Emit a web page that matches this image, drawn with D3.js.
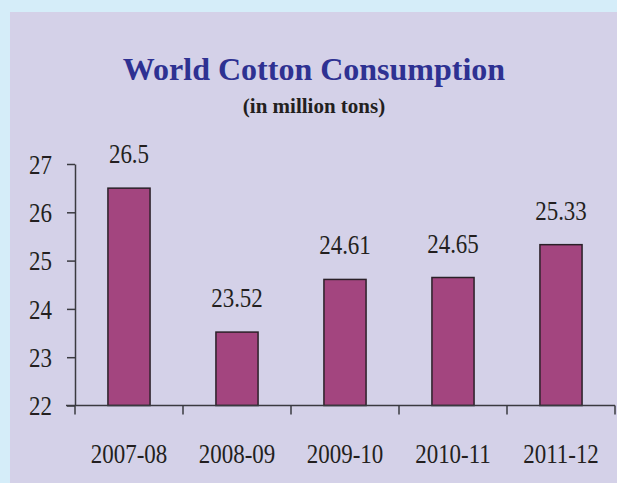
<!DOCTYPE html>
<html>
<head>
<meta charset="utf-8">
<script src="https://cdn.jsdelivr.net/npm/d3@7/dist/d3.min.js"></script>
<style>
  html, body { margin: 0; padding: 0; background: #d5edf9; }
  svg { display: block; }
</style>
</head>
<body>
<script>
// World cotton consumption by season, million tons
const seasons = ["2007-08", "2008-09", "2009-10", "2010-11", "2011-12"];
const consumption = [26.5, 23.52, 24.61, 24.65, 25.33];
const valueLabels = ["26.5", "23.52", "24.61", "24.65", "25.33"];
const yTicks = [22, 23, 24, 25, 26, 27];

const W = 617, H = 483;
const svg = d3.select("body").append("svg").attr("width", W).attr("height", H);

// outer light-blue frame and lavender panel
svg.append("rect").attr("width", W).attr("height", H).attr("fill", "#d5edf9");
svg.append("rect").attr("x", 10).attr("y", 12).attr("width", W - 10).attr("height", H - 12)
  .attr("fill", "#d4d1e8");

const serif = "Liberation Serif, Times New Roman, serif";
const numSize = "28px";     // tall, narrow numerals
const squeeze = 0.82;       // horizontal condensing of numerals
const placed = (px, py) => `translate(${px},${py}) scale(${squeeze},1)`;

svg.append("text").attr("x", 314).attr("y", 80).attr("text-anchor", "middle")
  .style("font-family", serif).style("font-weight", "bold").style("font-size", "32px")
  .attr("fill", "#2e3192").text("World Cotton Consumption");
svg.append("text").attr("x", 314).attr("y", 113).attr("text-anchor", "middle")
  .style("font-family", serif).style("font-weight", "bold").style("font-size", "21px")
  .attr("fill", "#231f20").text("(in million tons)");

const x = d3.scaleBand().domain(seasons).range([75, 615]).paddingInner(0.61).paddingOuter(0.305);
const y = d3.scaleLinear().domain([22, 27]).range([405.5, 164]);

const axisColor = "#3a3a40";

// y axis
const yAxis = svg.append("g").attr("transform", "translate(75,0)")
  .call(d3.axisLeft(y).tickValues(yTicks).tickFormat(d3.format("d"))
    .tickSize(8).tickPadding(15).tickSizeOuter(0));
yAxis.select(".domain").attr("stroke", axisColor).attr("stroke-width", 1.5);
yAxis.selectAll(".tick line").attr("stroke", axisColor).attr("stroke-width", 1.5);
yAxis.selectAll(".tick text")
  .attr("x", 0).attr("dy", "0.33em").attr("transform", placed(-23, 0))
  .style("font-family", serif).style("font-size", numSize).attr("fill", "#231f20");

// bars
svg.append("g").selectAll("rect").data(seasons).join("rect")
  .attr("x", d => x(d))
  .attr("y", (d, i) => y(consumption[i]))
  .attr("width", x.bandwidth())
  .attr("height", (d, i) => y(22) - y(consumption[i]))
  .attr("fill", "#a3457f").attr("stroke", "#2a2028").attr("stroke-width", 1.5);

// value labels
svg.append("g").selectAll("text").data(seasons).join("text")
  .attr("transform", (d, i) => placed(x(d) + x.bandwidth() / 2, y(consumption[i]) - 25))
  .attr("text-anchor", "middle")
  .style("font-family", serif).style("font-size", numSize).attr("fill", "#231f20")
  .text((d, i) => valueLabels[i]);

// x axis with ticks on category boundaries
const xAxisG = svg.append("g");
xAxisG.append("line").attr("x1", 66).attr("x2", 615).attr("y1", y(22)).attr("y2", y(22))
  .attr("stroke", axisColor).attr("stroke-width", 1.5);
const bounds = seasons.map(s => x(s) - x.step() * x.paddingInner() / 2).concat([615]);
xAxisG.selectAll("line.tick").data(bounds).join("line").attr("class", "tick")
  .attr("x1", d => d).attr("x2", d => d).attr("y1", y(22)).attr("y2", y(22) + 9)
  .attr("stroke", axisColor).attr("stroke-width", 1.5);
xAxisG.selectAll("text").data(seasons).join("text")
  .attr("transform", d => placed(x(d) + x.bandwidth() / 2, 463))
  .attr("text-anchor", "middle")
  .style("font-family", serif).style("font-size", numSize).attr("fill", "#231f20")
  .text(d => d);
</script>
</body>
</html>
